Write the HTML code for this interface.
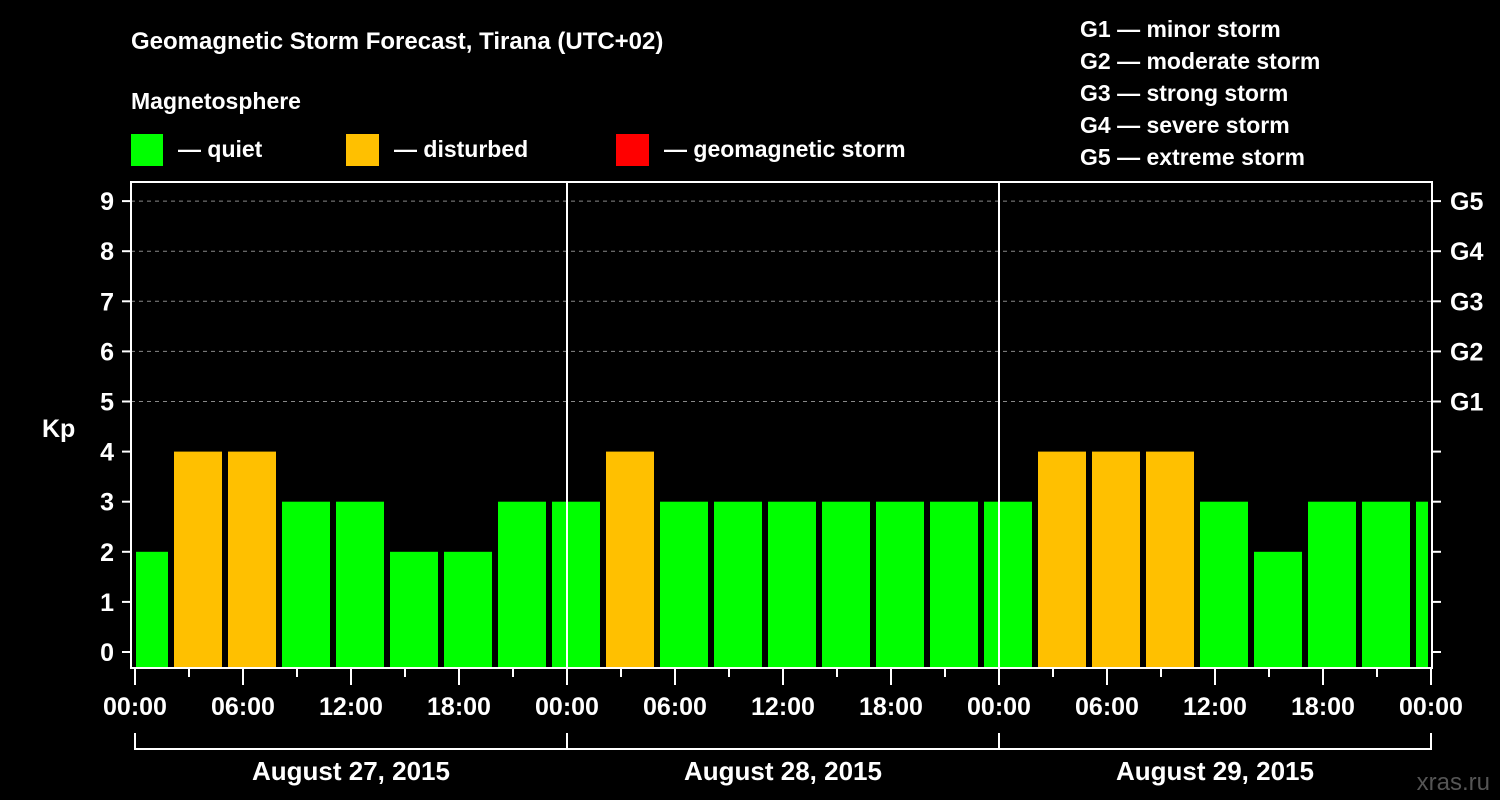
<!DOCTYPE html>
<html><head><meta charset="utf-8"><style>
html,body{margin:0;padding:0;background:#000;}
svg{display:block;font-family:"Liberation Sans",Arial,sans-serif;font-weight:bold;}
</style></head><body>
<svg id="chart" width="1500" height="800" viewBox="0 0 1500 800">
<rect x="0" y="0" width="1500" height="800" fill="#000"/>
<text x="131" y="49" fill="#fff" font-size="24">Geomagnetic Storm Forecast, Tirana (UTC+02)</text>
<text x="131" y="109" fill="#fff" font-size="23">Magnetosphere</text>
<g>
<rect x="131" y="134" width="32" height="32" fill="#00ff00"/>
<text x="178" y="157" fill="#fff" font-size="23">— quiet</text></g>
<g>
<rect x="346" y="134" width="33" height="32" fill="#ffc000"/>
<text x="394" y="157" fill="#fff" font-size="23">— disturbed</text></g>
<g>
<rect x="616" y="134" width="33" height="32" fill="#ff0000"/>
<text x="664" y="157" fill="#fff" font-size="23">— geomagnetic storm</text></g>
<g fill="#fff" font-size="23">
<text x="1080" y="37">G1 — minor storm</text>
<text x="1080" y="69">G2 — moderate storm</text>
<text x="1080" y="101">G3 — strong storm</text>
<text x="1080" y="133">G4 — severe storm</text>
<text x="1080" y="165">G5 — extreme storm</text>
</g>
<text x="42" y="437" fill="#fff" font-size="25">Kp</text>
<text x="1490" y="790" fill="#555" font-size="24" text-anchor="end" font-weight="normal">xras.ru</text>
<g id="grid"></g>
<g id="bars"></g>
<g id="axes"></g>
</svg>
<script>
const kpValues = [2,4,4,3,3,2,2,3, 3,4,3,3,3,3,3,3, 3,4,4,4,3,2,3,3,3];
const yTicks = [0,1,2,3,4,5,6,7,8,9];
const gLabels = ["G1","G2","G3","G4","G5"];
const gLevels = [5,6,7,8,9];
const xTickLabels = ["00:00","06:00","12:00","18:00","00:00","06:00","12:00","18:00","00:00","06:00","12:00","18:00","00:00"];
const dayLabels = ["August 27, 2015","August 28, 2015","August 29, 2015"];
const startOffsetHours = -1;

const NS="http://www.w3.org/2000/svg";
const X0=135, PXH=18, Y0=652, PXK=50.1, L=131, R=1432, T=182, B=668;
const xs=h=>X0+h*PXH, ys=v=>Y0-v*PXK;
function mk(tag,attrs,parent){const e=document.createElementNS(NS,tag);for(const k in attrs)e.setAttribute(k,attrs[k]);parent.appendChild(e);return e;}
const grid=document.getElementById('grid'),bars=document.getElementById('bars'),axes=document.getElementById('axes');

gLevels.forEach((lv,i)=>{
  const ln=mk('line',{x1:L,x2:R,y1:ys(lv),y2:ys(lv),stroke:'#888','stroke-width':1,'stroke-dasharray':'4,4'},grid);
  
  
  const t=mk('text',{x:1450,y:ys(lv)+9,fill:'#fff','font-size':25},axes);t.textContent=gLabels[i];
  
  
});

kpValues.forEach((v,i)=>{
  let x1=xs(startOffsetHours+i*3)+3, x2=xs(startOffsetHours+i*3+3)-3;
  x1=Math.max(x1,L+5); x2=Math.min(x2,R-4);
  if(x2<=x1) return;
  const r=mk('rect',{x:x1,y:ys(v),width:x2-x1,height:B-ys(v),fill:v>=5?'#ff0000':(v>=4?'#ffc000':'#00ff00')},bars);
  
  
});

// frame
const fr=mk('rect',{x:L,y:T,width:R-L,height:B-T,fill:'none',stroke:'#fff','stroke-width':2},axes);


[24,48].forEach(h=>{const d=mk('line',{x1:xs(h),x2:xs(h),y1:T,y2:B,stroke:'#fff','stroke-width':2},axes);
  
  });

yTicks.forEach(v=>{
  mk('line',{x1:122,x2:L,y1:ys(v),y2:ys(v),stroke:'#fff','stroke-width':2},axes);
  mk('line',{x1:R,x2:1441,y1:ys(v),y2:ys(v),stroke:'#fff','stroke-width':2},axes);
  const t=mk('text',{x:114,y:ys(v)+9,fill:'#fff','font-size':25,'text-anchor':'end'},axes);t.textContent=v;
  
  
});

for(let h=0;h<=72;h+=3){
  const major=h%6===0;
  mk('line',{x1:xs(h),x2:xs(h),y1:B,y2:major?685:677,stroke:'#fff','stroke-width':2},axes);
}
xTickLabels.forEach((s,i)=>{
  const t=mk('text',{x:xs(i*6),y:715,fill:'#fff','font-size':25,'text-anchor':'middle'},axes);t.textContent=s;
  
  
});
mk('line',{x1:xs(0),x2:xs(72),y1:749,y2:749,stroke:'#fff','stroke-width':2},axes);
for(let d=0;d<=3;d++) mk('line',{x1:xs(d*24),x2:xs(d*24),y1:733,y2:750,stroke:'#fff','stroke-width':2},axes);
dayLabels.forEach((s,i)=>{
  const t=mk('text',{x:xs(i*24+12),y:780,fill:'#fff','font-size':26,'text-anchor':'middle'},axes);t.textContent=s;
  
  
});
</script>
</body></html>
